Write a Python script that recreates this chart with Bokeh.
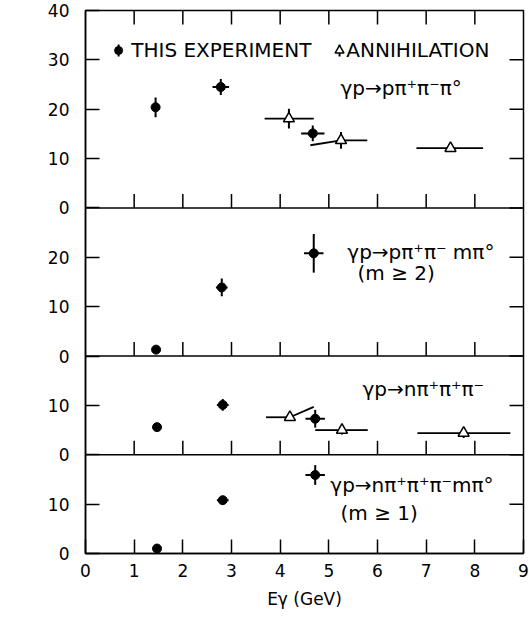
import numpy as np
from bokeh.plotting import figure
from bokeh.models import FixedTicker, Range1d, Span, Label
from bokeh.core.properties import value
from bokeh.embed import file_html
from bokeh.resources import INLINE

# ---------------- data ----------------
x_ticks = [0, 1, 2, 3, 4, 5, 6, 7, 8, 9]

# panels listed top -> bottom
panel_ymax = [40, 30, 20, 20]
panel_ticks = [[0, 10, 20, 30, 40], [0, 10, 20], [0, 10], [0, 10]]

# Panel 1: γp -> pπ+π-π0
p1_exp_E = [1.44, 2.78, 4.67]
p1_exp_sig = [20.4, 24.5, 15.1]
p1_exp_dsig = [2.0, 1.6, 1.6]
p1_exp_dE = [0.0, 0.17, 0.24]
p1_ann_E = [4.18, 5.25, 7.50]
p1_ann_sig = [18.1, 13.7, 12.1]
p1_ann_dsig = [2.0, 1.7, 0.5]
p1_ann_Elo = [3.68, 4.62, 6.80]
p1_ann_Ehi = [4.69, 5.79, 8.17]
p1_ann_sig_left = [18.1, 12.7, 12.1]
p1_ann_sig_right = [18.1, 13.7, 12.1]

# Panel 2: γp -> pπ+π- mπ0 (m>=2)
p2_exp_E = [1.45, 2.80, 4.69]
p2_exp_sig = [1.3, 13.9, 20.8]
p2_exp_dsig = [0.0, 1.8, 3.9]
p2_exp_dE = [0.0, 0.12, 0.20]

# Panel 3: γp -> nπ+π+π-
p3_exp_E = [1.47, 2.82, 4.72]
p3_exp_sig = [5.6, 10.1, 7.3]
p3_exp_dsig = [0.0, 1.2, 1.8]
p3_exp_dE = [0.0, 0.12, 0.20]
p3_ann_E = [4.20, 5.27, 7.77]
p3_ann_sig = [7.6, 5.0, 4.4]
p3_ann_dsig = [0.6, 0.9, 1.0]
p3_ann_Elo = [3.71, 4.72, 6.82]
p3_ann_Ehi = [4.69, 5.80, 8.73]
p3_ann_sig_left = [7.6, 5.0, 4.4]
p3_ann_sig_right = [9.7, 5.0, 4.4]

# Panel 4: γp -> nπ+π+π- mπ0 (m>=1)
p4_exp_E = [1.47, 2.82, 4.72]
p4_exp_sig = [1.0, 10.8, 15.9]
p4_exp_dsig = [0.0, 0.7, 2.0]
p4_exp_dE = [0.0, 0.12, 0.20]

reaction_labels = [
    ["γp→pπ⁺π⁻π°"],
    ["γp→pπ⁺π⁻ mπ°", "(m ≥ 2)"],
    ["γp→nπ⁺π⁺π⁻"],
    ["γp→nπ⁺π⁺π⁻mπ°", "(m ≥ 1)"],
]

# ---------------- layout constants ----------------
W, H = 529, 618
BL, BR, BT, BB = 85, 6, 10, 65
FONT = "DejaVu Sans"
TICK = 14

offsets = []
acc = 0
for ym in reversed(panel_ymax):
    offsets.append(acc)
    acc += ym
offsets = list(reversed(offsets))   # top -> bottom
total = acc
x_min, x_max = x_ticks[0], x_ticks[-1]
py_per_unit = (H - BT - BB) / total
px_per_unit = (W - BL - BR) / (x_max - x_min)
tick_y = TICK / py_per_unit
tick_x = TICK / px_per_unit

p = figure(width=W, height=H, x_range=Range1d(x_min, x_max), y_range=Range1d(0, total),
           output_backend="svg", toolbar_location=None,
           min_border_left=BL, min_border_right=BR, min_border_top=BT, min_border_bottom=BB)
p.xgrid.visible = False
p.ygrid.visible = False
p.outline_line_color = "black"
p.outline_line_width = 1.5
p.background_fill_color = "white"
p.border_fill_color = "white"

y_tick_pos, y_overrides = [], {}
for off, ticks in zip(offsets, panel_ticks):
    for t in ticks:
        pos = int(off + t)
        if pos not in y_overrides:
            y_tick_pos.append(pos)
        y_overrides[pos] = str(t)

def style_axis(ax):
    ax.major_tick_in = TICK
    ax.major_tick_out = 0
    ax.minor_tick_line_color = None
    ax.major_tick_line_color = "black"
    ax.major_tick_line_width = 1.5
    ax.axis_line_color = "black"
    ax.axis_line_width = 1.5
    ax.major_label_text_font = FONT
    ax.major_label_text_font_size = "17px"
    ax.major_label_text_color = "black"

xa = p.xaxis[0]
xa.ticker = FixedTicker(ticks=x_ticks)
style_axis(xa)
xa.major_label_standoff = 10
xa.axis_label = "Eγ (GeV)"
xa.axis_label_text_font = FONT
xa.axis_label_text_font_size = "17px"
xa.axis_label_text_font_style = "normal"
xa.axis_label_text_color = "black"
xa.axis_label_standoff = 9

ya = p.yaxis[0]
ya.ticker = FixedTicker(ticks=y_tick_pos)
ya.major_label_overrides = y_overrides
style_axis(ya)
ya.major_label_standoff = 16

# right-side inward ticks and top inward ticks
inner_x = [t for t in x_ticks if x_min < t < x_max]
inner_y = [t for t in y_tick_pos if 0 < t < total]
p.segment(x0=[x_max - tick_x] * len(inner_y), y0=inner_y, x1=[x_max] * len(inner_y), y1=inner_y,
          line_color="black", line_width=1.5)
p.segment(x0=inner_x, y0=[total] * len(inner_x), x1=inner_x, y1=[total - tick_y] * len(inner_x),
          line_color="black", line_width=1.5)

# panel boundaries and their upward ticks
for off in offsets[:-1]:
    p.add_layout(Span(location=off, dimension="width", line_color="black", line_width=1.5))
    p.segment(x0=inner_x, y0=[off] * len(inner_x), x1=inner_x, y1=[off + tick_y] * len(inner_x),
              line_color="black", line_width=1.5)

def draw_exp(off, E, sig, dsig, dE):
    E = np.array(E); s = np.array(sig) + off; ds = np.array(dsig); de = np.array(dE)
    p.segment(E, s - ds, E, s + ds, line_color="black", line_width=2)
    p.segment(E - de, s, E + de, s, line_color="black", line_width=2)
    p.scatter(E, s, marker="circle", size=9, fill_color="black", line_color="black")

def draw_ann(off, E, sig, dsig, Elo, Ehi, sl, sr):
    E = np.array(E); s = np.array(sig) + off; ds = np.array(dsig)
    p.segment(E, s - ds, E, s + ds, line_color="black", line_width=2)
    p.segment(np.array(Elo), np.array(sl) + off, E, s, line_color="black", line_width=1.8)
    p.segment(E, s, np.array(Ehi), np.array(sr) + off, line_color="black", line_width=1.8)
    p.scatter(E, s, marker="triangle", size=11, fill_color="white", line_color="black", line_width=1.5)

draw_exp(offsets[0], p1_exp_E, p1_exp_sig, p1_exp_dsig, p1_exp_dE)
draw_ann(offsets[0], p1_ann_E, p1_ann_sig, p1_ann_dsig, p1_ann_Elo, p1_ann_Ehi, p1_ann_sig_left, p1_ann_sig_right)
draw_exp(offsets[1], p2_exp_E, p2_exp_sig, p2_exp_dsig, p2_exp_dE)
draw_exp(offsets[2], p3_exp_E, p3_exp_sig, p3_exp_dsig, p3_exp_dE)
draw_ann(offsets[2], p3_ann_E, p3_ann_sig, p3_ann_dsig, p3_ann_Elo, p3_ann_Ehi, p3_ann_sig_left, p3_ann_sig_right)
draw_exp(offsets[3], p4_exp_E, p4_exp_sig, p4_exp_dsig, p4_exp_dE)

# reaction labels (E, sigma within panel)
label_pos = [
    [(5.24, 24.2)],
    [(5.38, 21.0), (5.59, 16.9)],
    [(5.69, 13.4)],
    [(5.03, 13.8), (5.24, 8.3)],
]
for off, texts, poss in zip(offsets, reaction_labels, label_pos):
    for t, (ex, sy) in zip(texts, poss):
        p.text(x=[ex], y=[sy + off], text=[t], text_font=value(FONT), text_font_size="20px",
               text_align="left", text_baseline="middle", text_color="black")

# legend (top panel)
leg_y = offsets[0] + 31.9
leg_bar = 6 / py_per_unit
p.segment([0.68], [leg_y - leg_bar], [0.68], [leg_y + leg_bar], line_color="black", line_width=2)
p.scatter([0.68], [leg_y], marker="circle", size=8, color="black")
p.text(x=[0.94], y=[leg_y], text=["THIS EXPERIMENT"], text_font=value(FONT), text_font_size="20px",
       text_align="left", text_baseline="middle", text_color="black")
p.segment([5.22], [leg_y - leg_bar], [5.22], [leg_y + leg_bar], line_color="black", line_width=2)
p.scatter([5.22], [leg_y], marker="triangle", size=9, fill_color="white", line_color="black", line_width=1.5)
p.text(x=[5.36], y=[leg_y], text=["ANNIHILATION"], text_font=value(FONT), text_font_size="20px",
       text_align="left", text_baseline="middle", text_color="black")

# y-axis title
p.add_layout(Label(x=-1.34, y=64.4, text="σ (µb)", angle=np.pi / 2, text_font=FONT,
                   text_font_size="17px", text_align="center", text_baseline="middle",
                   text_color="black"))

open("out.html", "w").write(file_html(p, INLINE))
